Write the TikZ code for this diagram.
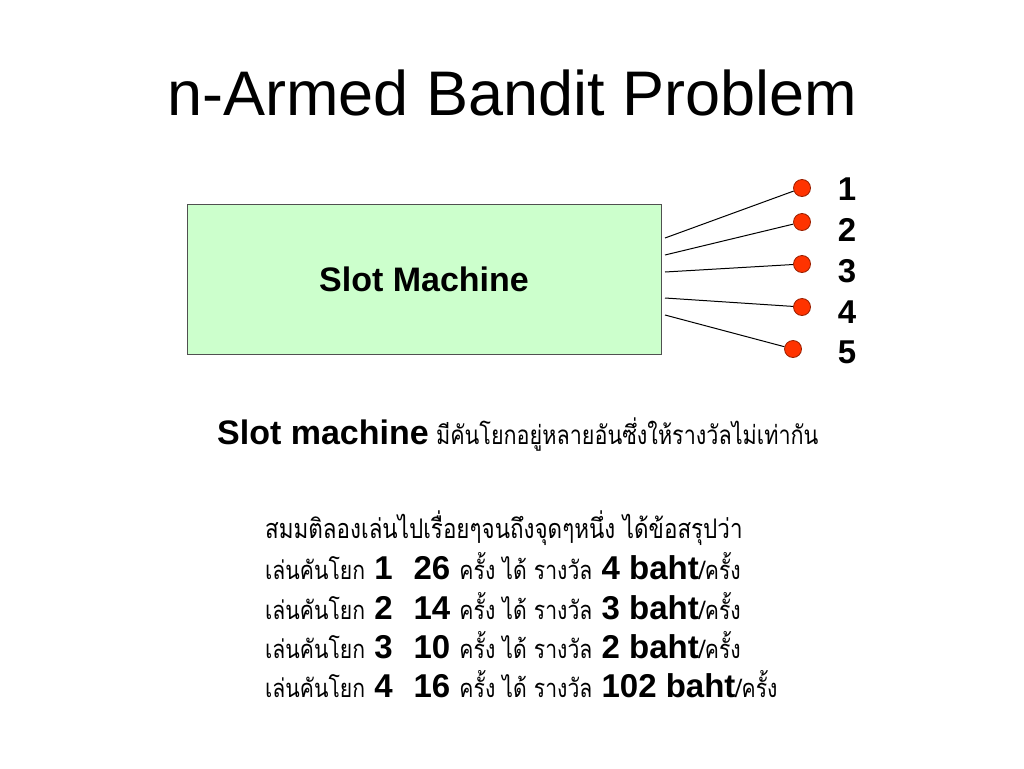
\documentclass[tikz,border=0pt]{standalone}
\usepackage{fontspec}
\setmainfont{Liberation Sans}
\newfontfamily\thaifont[Script=Thai,FakeStretch=0.83]{Loma}
\definecolor{boxgreen}{RGB}{204,255,204}
\definecolor{boxedge}{RGB}{80,80,80}
\definecolor{knobred}{RGB}{255,51,0}
\newcommand{\thtxt}[1]{{\thaifont\mdseries\fontsize{27}{29}\selectfont #1}}
\newcommand{\throw}[1]{{\thaifont\mdseries\fontsize{25.5}{28}\selectfont #1}}
\newcommand{\bnum}[1]{{\bfseries #1}}
\begin{document}
\begin{tikzpicture}[x=1pt,y=-1pt,
  knob/.style={circle,fill=knobred,draw=knobred!60!black,line width=0.8pt,minimum size=17pt,inner sep=0pt},
  armline/.style={draw=black,line width=1pt},
  numlab/.style={font=\fontsize{33}{35}\selectfont\bfseries,anchor=center,inner sep=0pt},
  thline/.style={anchor=base west,inner sep=0pt,font=\fontsize{33}{35}\selectfont}
]
\useasboundingbox[fill=white] (0,0) rectangle (1024,768);
\node[font=\fontsize{63}{65}\selectfont,inner sep=0pt] (title) at (512,93) {n-Armed Bandit Problem};
\node[draw=boxedge,fill=boxgreen,line width=1pt,minimum width=474pt,minimum height=150pt,inner sep=0pt,
  font=\fontsize{34}{36}\selectfont\bfseries] (box) at (424,279) {Slot Machine};
\coordinate (s1) at (665,238);
\coordinate (s2) at (665,255);
\coordinate (s3) at (665,272);
\coordinate (s4) at (665,298);
\coordinate (s5) at (665,315);
\node[knob] (k1) at (802,188) {};
\node[knob] (k2) at (802,222) {};
\node[knob] (k3) at (802,264) {};
\node[knob] (k4) at (802,307) {};
\node[knob] (k5) at (793,349) {};
\draw[armline] (s1) -- (k1);
\draw[armline] (s2) -- (k2);
\draw[armline] (s3) -- (k3);
\draw[armline] (s4) -- (k4);
\draw[armline] (s5) -- (k5);
\node[numlab] (n1) at (847,189) {1};
\node[numlab] (n2) at (847,230) {2};
\node[numlab] (n3) at (847,271) {3};
\node[numlab] (n4) at (847,312) {4};
\node[numlab] (n5) at (847,352) {5};
\node[thline,font=\fontsize{26}{28}\selectfont] (desc) at (217,444) {{\fontsize{34}{36}\selectfont\bfseries Slot machine} {\thaifont\fontsize{26}{28}\selectfont มีคันโยกอยู่หลายอันซึ่งให้รางวัลไม่เท่ากัน}};
\node[thline] (l0) at (265,538) {\thtxt{สมมติลองเล่นไปเรื่อยๆจนถึงจุดๆหนึ่ง ได้ข้อสรุปว่า}};
\node[thline] (l1) at (265,579) {\throw{เล่นคันโยก} \bnum{1\hspace{21pt}26} \throw{ครั้ง ได้ รางวัล} \bnum{4 baht}\throw{/ครั้ง}};
\node[thline] (l2) at (265,619) {\throw{เล่นคันโยก} \bnum{2\hspace{21pt}14} \throw{ครั้ง ได้ รางวัล} \bnum{3 baht}\throw{/ครั้ง}};
\node[thline] (l3) at (265,658) {\throw{เล่นคันโยก} \bnum{3\hspace{21pt}10} \throw{ครั้ง ได้ รางวัล} \bnum{2 baht}\throw{/ครั้ง}};
\node[thline] (l4) at (265,697) {\throw{เล่นคันโยก} \bnum{4\hspace{21pt}16} \throw{ครั้ง ได้ รางวัล} \bnum{102 baht}\throw{/ครั้ง}};
\end{tikzpicture}
\end{document}
